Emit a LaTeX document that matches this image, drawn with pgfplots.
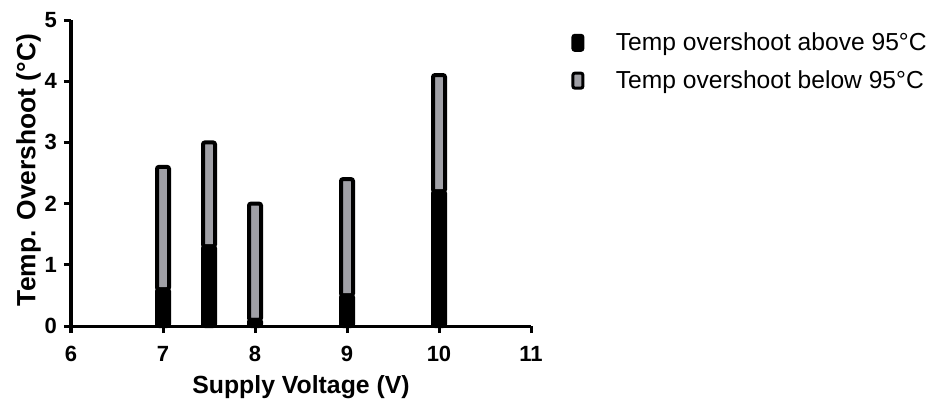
\documentclass[border=0pt]{standalone}
\usepackage{pgfplots}
\pgfplotsset{compat=1.18}
\usepackage{fontspec}
\setmainfont{Liberation Sans}
\definecolor{barGray}{HTML}{A0A0A6}

\begin{document}
\begin{tikzpicture}
\path[use as bounding box] (-35.5pt,-38.5pt) rectangle (429pt,163pt);
\begin{axis}[
  at={(0,0)}, anchor=south west,
  scale only axis, width=230pt, height=153pt,
  xmin=6, xmax=11, ymin=0, ymax=5,
  xtick={6,7,8,9,10,11}, ytick={0,1,2,3,4,5},
  axis lines=left, axis line style={-, line width=1.5pt},
  tick style={line width=1.5pt, black},
  tick align=outside, major tick length=3.5pt,
  tick label style={font=\fontsize{11}{13}\selectfont\bfseries},
  xticklabel style={yshift=-3pt},
  /pgf/number format/assume math mode=true,
  xlabel={Supply Voltage (V)},
  ylabel={Temp. Overshoot (°C)},
  xlabel style={font=\fontsize{12.4}{14}\selectfont\bfseries},
  ylabel style={font=\fontsize{13.2}{15}\selectfont\bfseries, yshift=-5pt, xshift=1.5pt},
  ybar stacked, bar width=6pt,
  clip=false,
  legend style={draw=none, fill=none, at={(1,1)}, anchor=north west,
    xshift=17pt, yshift=-2pt, row sep=4.5pt,
    font=\fontsize{12.3}{14}\selectfont},
  legend cell align=left,
  legend image code/.code={
    \draw[#1, line width=1.5pt, rounded corners=1pt] (0pt,-3.75pt) rectangle (5pt,3.75pt);
    \path[draw=none, fill=none] (0pt,0pt) -- (19.5pt,0pt);
  },
]
\addplot[fill=black, draw=black, line width=2pt, rounded corners=1pt]
  coordinates {(7,0.6) (7.5,1.3) (8,0.1) (9,0.5) (10,2.2)};
\addlegendentry{Temp overshoot above 95°C}
\addplot[fill=barGray, draw=black, line width=2pt, rounded corners=1pt]
  coordinates {(7,2.0) (7.5,1.7) (8,1.9) (9,1.9) (10,1.9)};
\addlegendentry{Temp overshoot below 95°C}
\end{axis}
\end{tikzpicture}
\end{document}
